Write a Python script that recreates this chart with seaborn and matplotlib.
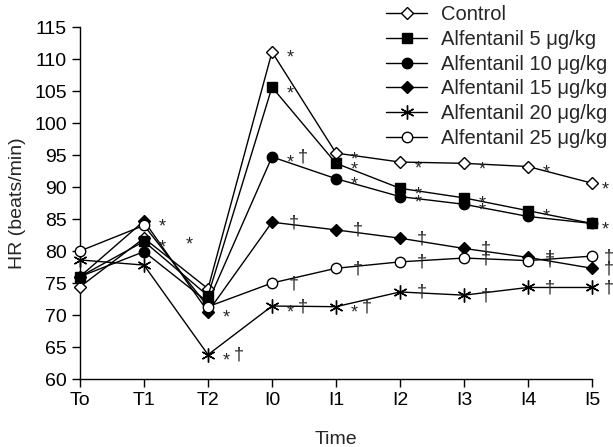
import matplotlib
matplotlib.use("Agg")
import matplotlib.pyplot as plt
import seaborn as sns
import pandas as pd

# time points and heart rate (beats/min)
times = ["To", "T1", "T2", "I0", "I1", "I2", "I3", "I4", "I5"]
control = [74.4, 82.0, 74.1, 111.1, 95.3, 93.9, 93.7, 93.2, 90.6]
alf5 = [76.0, 81.5, 73.0, 105.6, 93.7, 89.8, 88.3, 86.3, 84.3]
alf10 = [76.0, 79.9, 72.0, 94.7, 91.3, 88.5, 87.3, 85.4, 84.3]
alf15 = [76.0, 84.7, 70.5, 84.5, 83.3, 82.0, 80.4, 79.0, 77.3]
alf20 = [78.6, 77.8, 63.8, 71.4, 71.3, 73.6, 73.1, 74.3, 74.3]
alf25 = [80.0, 84.0, 71.3, 75.0, 77.3, 78.3, 78.9, 78.5, 79.2]

labels = ["Control", "Alfentanil 5 \u03bcg/kg", "Alfentanil 10 \u03bcg/kg",
          "Alfentanil 15 \u03bcg/kg", "Alfentanil 20 \u03bcg/kg", "Alfentanil 25 \u03bcg/kg"]
series = [control, alf5, alf10, alf15, alf20, alf25]

# significance marks next to each point ("*" vs baseline, "\u2020" vs control)
sig_control = ["", "*", "", "*", "*", "*", "*", "*", "*"]
sig_alf5 = ["", "*", "", "*", "*", "*", "*", "*", "*"]
sig_alf10 = ["", "", "", "*\u2020", "*", "*", "*", "", ""]
sig_alf15 = ["", "*", "*", "\u2020", "\u2020", "\u2020", "\u2020", "\u2020", "\u2020"]
sig_alf20 = ["", "", "*\u2020", "*\u2020", "*\u2020", "\u2020", "\u2020", "\u2020", "\u2020"]
sig_alf25 = ["", "", "", "\u2020", "\u2020", "\u2020", "\u2020", "\u2020", "\u2020"]
sigs = [sig_control, sig_alf5, sig_alf10, sig_alf15, sig_alf20, sig_alf25]

styles = [
    dict(marker="D", ms=6.0, mfc="white"),
    dict(marker="s", ms=6.5, mfc="black"),
    dict(marker="o", ms=7.5, mfc="black"),
    dict(marker="D", ms=6.0, mfc="black"),
    dict(marker=(6, 2, 0), ms=10, mfc="black"),
    dict(marker="o", ms=7.5, mfc="white"),
]

sns.set_style("ticks")
plt.rcParams["font.family"] = ["Liberation Sans", "DejaVu Sans"]
plt.rcParams["font.size"] = 14

fig = plt.figure(figsize=(6.13, 4.47), dpi=100)
ax = fig.add_axes([80 / 613, 1 - 379 / 447, 512 / 613, 352 / 447])

handles = []
for lab, vals, st in zip(labels, series, styles):
    df = pd.DataFrame({"t": range(len(times)), "hr": vals})
    sns.lineplot(data=df, x="t", y="hr", ax=ax, color="black", lw=1.0,
                 marker=st["marker"], ms=st["ms"], mfc=st["mfc"], mec="black",
                 mew=1.0, clip_on=False, zorder=3)
    handles.append(ax.lines[-1])

# significance annotations
last = len(times) - 1
for vals, sig in zip(series, sigs):
    for i, s in enumerate(sig):
        if not s:
            continue
        if s == "*":
            parts = [("*", 18, -11)]
        elif s == "\u2020":
            parts = [("\u2020", 22, -5)]
        else:
            parts = [("*", 18, -11), ("\u2020", 31, -5)]
        for txt, dx, dy in parts:
            if vals is control and i == 1:
                dx = 45
            if i == last:
                dx -= 5
            ax.annotate(txt, (i, vals[i]), xytext=(dx, dy), textcoords="offset pixels",
                        ha="center", va="baseline", fontsize=13, annotation_clip=False)

ax.set_xlim(0, last)
ax.set_ylim(60, 115)
ax.set_xticks(range(len(times)))
ax.set_xticklabels(times)
ax.set_yticks(range(60, 116, 5))
ax.set_xlabel("Time", fontsize=14, labelpad=16)
ax.set_ylabel("HR (beats/min)", fontsize=14, labelpad=6)
ax.tick_params(direction="out", length=5.5, width=1.0, labelsize=14, pad=4, colors="black")
for sp in ["top", "right"]:
    ax.spines[sp].set_visible(False)
for sp in ["left", "bottom"]:
    ax.spines[sp].set_linewidth(1.0)
    ax.spines[sp].set_color("black")

if ax.get_legend() is not None:
    ax.get_legend().remove()
fig.legend(handles, labels, loc="upper right", bbox_to_anchor=(1.01, 1.015),
           frameon=False, fontsize=14.5, handlelength=2.0, handletextpad=0.7,
           labelspacing=0.28, borderaxespad=0.2)

fig.savefig("out.png", dpi=100)
